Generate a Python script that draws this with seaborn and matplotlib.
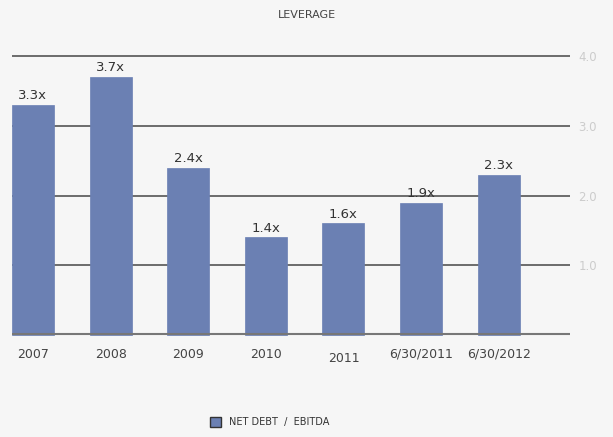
import pandas as pd
import matplotlib.pyplot as plt
import seaborn as sns
from matplotlib.patches import Patch

# Datos del grafico
periodos = ['2007', '2008', '2009', '2010', '2011', '6/30/2011', '6/30/2012']
apalancamiento = [3.3, 3.7, 2.4, 1.4, 1.6, 1.9, 2.3]
ticks_y = [1.0, 2.0, 3.0, 4.0]

df = pd.DataFrame({'periodo': periodos, 'valor': apalancamiento})

color_barra = '#6b80b3'
fondo = '#f6f6f6'

sns.set_style('white')
plt.rcParams['font.family'] = ['DejaVu Sans']

fig = plt.figure(figsize=(6.13, 4.37), dpi=100, facecolor=fondo)
ax = fig.add_axes([0.0196, 0.23, 0.9104, 0.645])
ax.set_facecolor(fondo)

sns.barplot(data=df, x='periodo', y='valor', color=color_barra, width=0.54,
            saturation=1, ax=ax)
for p in ax.patches:
    p.set_zorder(3)
    p.set_edgecolor(color_barra)
    p.set_linewidth(0.5)

# Lineas horizontales de la grilla
for t in ticks_y:
    ax.axhline(t, color='#555555', lw=1.2, zorder=1)
ax.axhline(0.01, color='#777777', lw=1.5, zorder=4)

# Etiquetas sobre cada barra
for i, v in enumerate(apalancamiento):
    ax.text(i, v + 0.04, f'{v:.1f}x', ha='center', va='bottom',
            fontsize=9.5, color='#333333', zorder=5)

ax.set_xlim(-0.27, 6.92)
ax.set_ylim(-0.02, 4.02)
ax.set_xlabel('')
ax.set_ylabel('')
for s in ax.spines.values():
    s.set_visible(False)

ax.yaxis.tick_right()
ax.set_yticks(ticks_y)
ax.set_yticklabels([f'{t:.1f}' for t in ticks_y], color='#cccccc', fontsize=8.5)
ax.tick_params(axis='y', length=0, pad=6)
ax.tick_params(axis='x', length=0, pad=8, labelsize=9, labelcolor='#444444')
for lbl in ax.get_xticklabels():
    if lbl.get_text() == '2011':
        lbl.set_y(-0.015)

fig.text(0.5, 0.965, 'LEVERAGE', ha='center', va='center', fontsize=8, color='#444444')

leyenda = [Patch(facecolor=color_barra, edgecolor='#333333', label='NET DEBT  /  EBITDA')]
fig.legend(handles=leyenda, loc='center', bbox_to_anchor=(0.44, 0.034), frameon=False,
           fontsize=7, handlelength=1.2, handleheight=1.2, labelcolor='#333333')

fig.savefig('out.png', dpi=100, facecolor=fondo)
